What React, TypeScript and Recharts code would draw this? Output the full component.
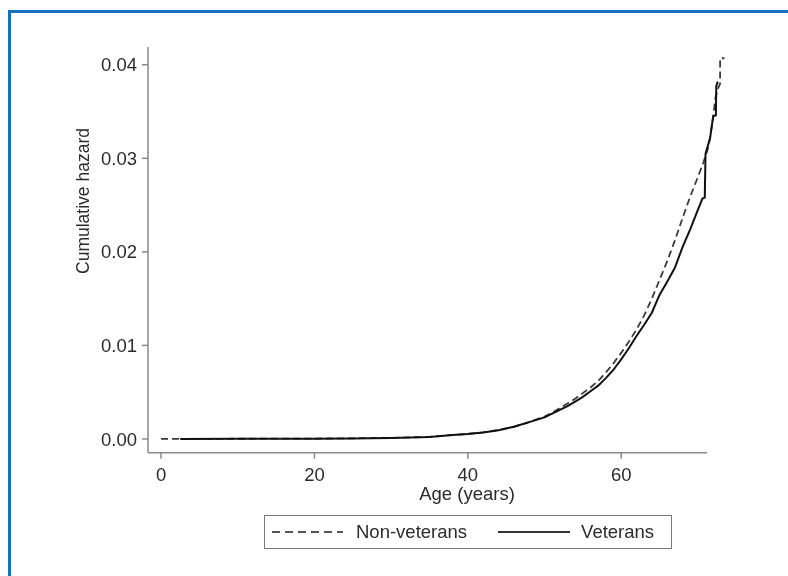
import React from "react";
import { LineChart, Line, XAxis, YAxis, ReferenceLine, Legend, Label } from "recharts";

// Non-veterans (dashed) cumulative hazard by age
const nonVetAge = [0, 2, 10, 20, 25, 30, 35, 38, 40, 42, 44, 46, 48, 50, 51, 52, 53, 54, 55, 56, 57, 58, 59, 60, 61, 62, 63, 64, 65, 66, 67, 68, 69, 70, 70.7, 71.3, 71.6, 72.0, 72.3, 72.6, 72.9, 72.9, 73.5];
const nonVetHazard = [0, 0.00001, 0.00002, 0.00004, 0.00007, 0.00012, 0.00022, 0.00042, 0.00055, 0.0007, 0.00095, 0.0013, 0.0018, 0.0024, 0.0028, 0.0033, 0.0038, 0.0043, 0.0049, 0.0055, 0.0062, 0.0071, 0.0081, 0.0092, 0.0104, 0.0117, 0.0132, 0.015, 0.017, 0.019, 0.0212, 0.0236, 0.0259, 0.028, 0.0295, 0.031, 0.0322, 0.0345, 0.0365, 0.0374, 0.038, 0.0407, 0.0407];

// Veterans (solid) cumulative hazard by age
const vetAge = [2.5, 10, 20, 25, 30, 35, 38, 40, 42, 44, 46, 48, 50, 51, 52, 53, 54, 55, 56, 57, 58, 59, 60, 61, 62, 63, 64, 65, 66, 67, 68, 69, 70, 70.6, 70.9, 71.0, 71.6, 72.0, 72.35, 72.4, 72.6];
const vetHazard = [0, 0.00001, 0.00003, 0.00005, 0.0001, 0.0002, 0.00042, 0.00053, 0.0007, 0.00093, 0.0013, 0.0018, 0.0023, 0.0027, 0.0031, 0.0035, 0.004, 0.0045, 0.0051, 0.0057, 0.0065, 0.0074, 0.0085, 0.0097, 0.011, 0.0122, 0.0135, 0.0154, 0.0168, 0.0183, 0.0205, 0.0224, 0.0245, 0.0257, 0.0258, 0.0305, 0.0322, 0.0345, 0.0346, 0.0377, 0.0382];

const xTicks = [0, 20, 40, 60];
const yTicks = [0, 0.01, 0.02, 0.03, 0.04];
const X_MIN = -1.7;
const X_MAX = 73.5;
const X_AXIS_END = 71.2;
const Y_MIN = -0.00147;
const Y_MAX = 0.0419;

const seriesNames = ["Non-veterans", "Veterans"];

const nonVetData = nonVetAge.map((a, i) => ({ age: a, hazard: nonVetHazard[i] }));
const vetData = vetAge.map((a, i) => ({ age: a, hazard: vetHazard[i] }));

const FONT = "'Liberation Sans', Arial, sans-serif";
const AXIS = "#8a8a8a";
const TEXT = "#2b2b2b";

const YTitle = () => (
  <text x={74.7} y={193} transform="rotate(-90 74.7 193)" textAnchor="middle" dominantBaseline="central"
    fontFamily={FONT} fontSize={17.5} fill={TEXT}>Cumulative hazard</text>
);
const XTitle = () => (
  <text x={459} y={492} textAnchor="middle" fontFamily={FONT} fontSize={18.5} fill={TEXT}>Age (years)</text>
);

const LegendBox = () => (
  <div style={{
    boxSizing: "border-box", width: 408, height: 34, border: "1.5px solid #7a7a7a", background: "#fff",
    display: "flex", alignItems: "center", fontFamily: FONT, fontSize: 18.5, color: TEXT, paddingLeft: 7,
  }}>
    <svg width={71} height={10}><line x1={0} y1={5} x2={71} y2={5} stroke="#555" strokeWidth={2} strokeDasharray="8 5" /></svg>
    <span style={{ marginLeft: 13 }}>{seriesNames[0]}</span>
    <svg width={72} height={10} style={{ marginLeft: 31 }}><line x1={0} y1={5} x2={72} y2={5} stroke="#333" strokeWidth={2} /></svg>
    <span style={{ marginLeft: 11 }}>{seriesNames[1]}</span>
  </div>
);

export default function App() {
  return (
    <div style={{ position: "relative", width: 772, height: 560, background: "#fff" }}>
      <div style={{ position: "fixed", left: 8, top: 10, width: 900, height: 700, borderLeft: "3px solid #1570C0", borderTop: "3px solid #1570C0", pointerEvents: "none" }} />
      <div style={{ position: "absolute", left: 0, top: 0 }}>
        <LineChart width={772} height={560} margin={{ top: 39, right: 55.3, bottom: 55.3, left: 0 }}>
          <XAxis type="number" dataKey="age" domain={[X_MIN, X_MAX]} allowDataOverflow ticks={xTicks}
            axisLine={false} tickLine={{ stroke: AXIS, strokeWidth: 1.5 }} tickSize={6} tickMargin={9} height={60}
            tick={{ fontFamily: FONT, fontSize: 18.5, fill: TEXT }}>
            <Label content={<XTitle />} />
          </XAxis>
          <YAxis type="number" dataKey="hazard" domain={[Y_MIN, Y_MAX]} allowDataOverflow ticks={yTicks} width={140}
            tickFormatter={(v: number) => v.toFixed(2)}
            axisLine={{ stroke: AXIS, strokeWidth: 1.5 }} tickLine={{ stroke: AXIS, strokeWidth: 1.5 }} tickSize={6} tickMargin={5}
            tick={{ fontFamily: FONT, fontSize: 18.5, fill: TEXT }}>
            <Label content={<YTitle />} />
          </YAxis>
          <ReferenceLine segment={[{ x: X_MIN, y: Y_MIN }, { x: X_AXIS_END, y: Y_MIN }]} stroke={AXIS} strokeWidth={1.5} ifOverflow="visible" />
          <Line data={nonVetData} dataKey="hazard" name={seriesNames[0]} type="linear" stroke="#3a3a3a" strokeWidth={1.8}
            strokeDasharray="7 4" dot={false} isAnimationActive={false} />
          <Line data={vetData} dataKey="hazard" name={seriesNames[1]} type="linear" stroke="#111" strokeWidth={2}
            dot={false} isAnimationActive={false} />
          <Legend layout="vertical" align="center" verticalAlign="middle"
            wrapperStyle={{ position: "absolute", left: 256, top: 507, width: 408, height: 34 }}
            content={() => <LegendBox />} />
        </LineChart>
      </div>
    </div>
  );
}
